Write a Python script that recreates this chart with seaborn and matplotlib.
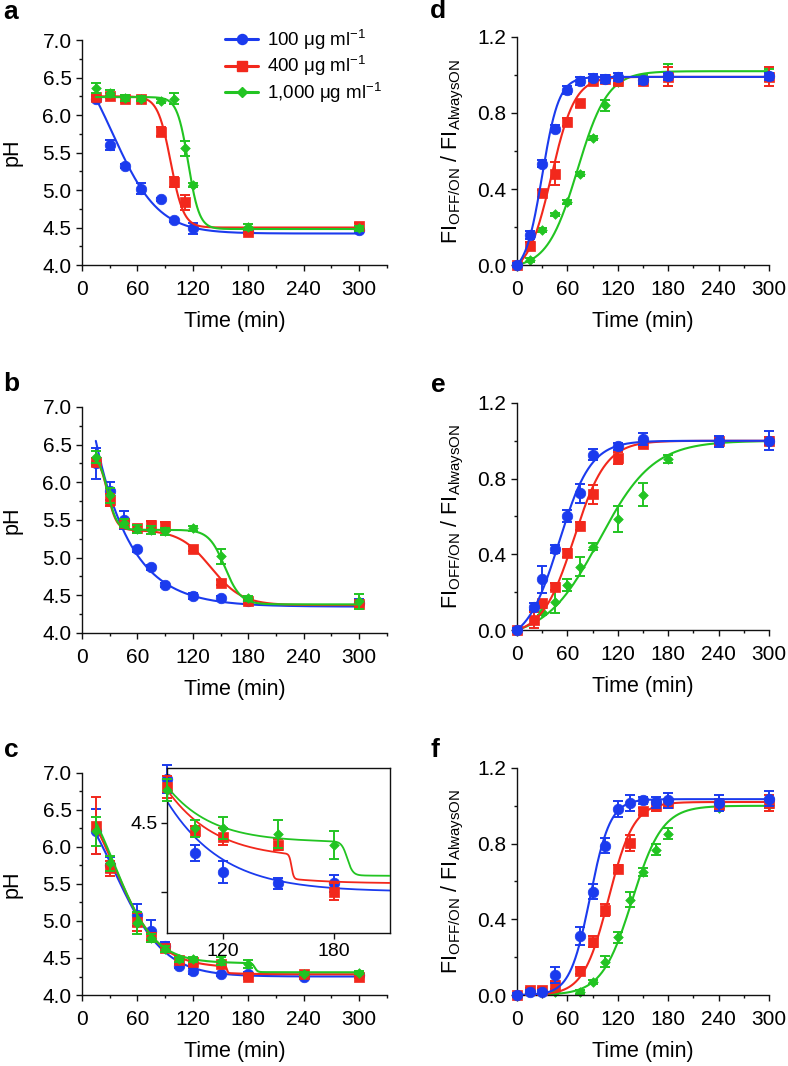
import numpy as np
import matplotlib
matplotlib.use("Agg")
import matplotlib.pyplot as plt
from matplotlib.lines import Line2D
from matplotlib.ticker import MultipleLocator, FixedLocator, FixedFormatter
import seaborn as sns

# ---------------- data ----------------
labels = ["100 \u03bcg ml$^{-1}$", "400 \u03bcg ml$^{-1}$", "1,000 \u03bcg ml$^{-1}$"]
colors = ["#1b3bee", "#f2281c", "#22c422"]
markers = ["o", "s", "D"]
msizes = [7.6, 7.0, 4.9]

# panel a (pH)
a_blue_t = [15, 30, 47, 64, 85, 100, 120, 180, 300]
a_blue_y = [6.22, 5.60, 5.32, 5.02, 4.88, 4.60, 4.49, 4.45, 4.47]
a_blue_e = [0.03, 0.07, 0.03, 0.07, 0.02, 0.03, 0.07, 0.03, 0.04]
a_red_t = [15, 30, 47, 64, 85, 100, 111, 180, 300]
a_red_y = [6.24, 6.26, 6.22, 6.22, 5.78, 5.11, 4.84, 4.44, 4.52]
a_red_e = [0.03, 0.03, 0.04, 0.03, 0.06, 0.07, 0.10, 0.03, 0.04]
a_green_t = [15, 30, 47, 64, 85, 100, 111, 120, 180, 300]
a_green_y = [6.36, 6.29, 6.23, 6.22, 6.19, 6.22, 5.56, 5.07, 4.51, 4.49]
a_green_e = [0.07, 0.04, 0.04, 0.03, 0.03, 0.07, 0.10, 0.03, 0.04, 0.03]

# panel b (pH)
b_t = [15, 30, 45, 60, 75, 90, 120, 150, 180, 300]
b_blue_y = [6.25, 5.88, 5.50, 5.11, 4.87, 4.64, 4.49, 4.46, 4.42, 4.40]
b_blue_e = [0.20, 0.12, 0.12, 0.03, 0.03, 0.03, 0.04, 0.03, 0.03, 0.05]
b_red_y = [6.27, 5.76, 5.46, 5.40, 5.44, 5.42, 5.12, 4.67, 4.42, 4.38]
b_red_e = [0.05, 0.08, 0.05, 0.04, 0.05, 0.05, 0.03, 0.03, 0.03, 0.05]
b_green_y = [6.33, 5.83, 5.46, 5.38, 5.37, 5.35, 5.39, 5.02, 4.46, 4.42]
b_green_e = [0.08, 0.10, 0.05, 0.05, 0.05, 0.05, 0.03, 0.10, 0.03, 0.10]

# panel c (pH)
c_t = [15, 30, 60, 75, 90, 105, 120, 150, 180, 240, 300]
c_blue_y = [6.21, 5.76, 5.08, 4.86, 4.66, 4.39, 4.32, 4.28, 4.28, 4.24, 4.27]
c_blue_e = [0.30, 0.10, 0.15, 0.15, 0.05, 0.03, 0.04, 0.02, 0.03, 0.02, 0.02]
c_red_y = [6.29, 5.71, 4.99, 4.79, 4.63, 4.47, 4.45, 4.42, 4.25, 4.29, 4.25]
c_red_e = [0.38, 0.10, 0.12, 0.05, 0.04, 0.02, 0.03, 0.02, 0.03, 0.02, 0.02]
c_green_y = [6.21, 5.78, 4.97, 4.77, 4.62, 4.48, 4.48, 4.46, 4.42, 4.29, 4.30]
c_green_e = [0.20, 0.10, 0.15, 0.05, 0.04, 0.03, 0.04, 0.05, 0.05, 0.02, 0.02]

# panel d (FI ratio)
d_t = [0, 15, 30, 45, 60, 75, 90, 105, 120, 150, 180, 300]
d_blue_y = [0, 0.158, 0.534, 0.718, 0.92, 0.967, 0.986, 0.979, 0.99, 0.972, 0.993, 0.993]
d_blue_e = [0.01, 0.02, 0.02, 0.02, 0.02, 0.02, 0.02, 0.02, 0.02, 0.02, 0.02, 0.02]
d_red_y = [0, 0.10, 0.377, 0.48, 0.753, 0.85, 0.967, 0.98, 0.97, 0.97, 0.99, 0.99]
d_red_e = [0.01, 0.02, 0.02, 0.06, 0.02, 0.02, 0.02, 0.02, 0.02, 0.02, 0.05, 0.05]
d_green_y = [0, 0.026, 0.184, 0.266, 0.33, 0.48, 0.67, 0.84, 0.964, 0.98, 1.0, 1.0]
d_green_e = [0.01, 0.01, 0.01, 0.01, 0.01, 0.01, 0.01, 0.03, 0.02, 0.02, 0.06, 0.03]

# panel e (FI ratio)
e_blue_t = [0, 20, 30, 45, 60, 75, 90, 120, 150, 240, 300]
e_blue_y = [0, 0.124, 0.268, 0.427, 0.603, 0.723, 0.926, 0.97, 1.01, 0.997, 1.0]
e_blue_e = [0.01, 0.02, 0.07, 0.02, 0.03, 0.05, 0.03, 0.02, 0.03, 0.03, 0.05]
e_red_t = [0, 20, 30, 45, 60, 75, 90, 120, 150, 240, 300]
e_red_y = [0, 0.053, 0.141, 0.229, 0.406, 0.55, 0.718, 0.909, 0.985, 0.997, 1.0]
e_red_e = [0.01, 0.04, 0.02, 0.02, 0.02, 0.02, 0.05, 0.03, 0.02, 0.02, 0.02]
e_green_t = [0, 30, 45, 60, 75, 90, 120, 150, 180, 240, 300]
e_green_y = [0, 0.097, 0.15, 0.238, 0.335, 0.441, 0.588, 0.715, 0.905, 0.997, 1.0]
e_green_e = [0.01, 0.02, 0.06, 0.03, 0.05, 0.02, 0.07, 0.06, 0.02, 0.02, 0.02]

# panel f (FI ratio)
f_blue_t = [0, 15, 30, 45, 75, 90, 105, 120, 135, 150, 165, 180, 240, 300]
f_blue_y = [0, 0.018, 0.014, 0.106, 0.312, 0.547, 0.79, 0.983, 1.015, 1.029, 1.018, 1.029, 1.015, 1.038]
f_blue_e = [0.01, 0.01, 0.01, 0.04, 0.05, 0.04, 0.04, 0.04, 0.04, 0.02, 0.03, 0.04, 0.04, 0.04]
f_red_t = [0, 15, 30, 45, 75, 90, 105, 120, 135, 150, 165, 180, 240, 300]
f_red_y = [0, 0.026, 0.026, 0.053, 0.129, 0.282, 0.45, 0.667, 0.803, 0.97, 1.0, 1.015, 1.006, 1.015]
f_red_e = [0.01, 0.01, 0.01, 0.02, 0.02, 0.03, 0.03, 0.02, 0.04, 0.02, 0.03, 0.02, 0.03, 0.04]
f_green_t = [0, 45, 75, 90, 105, 120, 135, 150, 165, 180, 240, 300]
f_green_y = [0, 0.018, 0.014, 0.07, 0.176, 0.305, 0.503, 0.65, 0.768, 0.852, 0.99, 1.006]
f_green_e = [0.01, 0.01, 0.01, 0.01, 0.03, 0.03, 0.04, 0.02, 0.03, 0.03, 0.02, 0.02]

# fitted-curve parameters
# pH panels: base + sum of decreasing logistic terms (amp, t0, dt) or exponential ("exp", amp, tref, k)
a_fits = [(4.42, [(2.68, 33, 25)]),
          (4.50, [(1.75, 96, 7)]),
          (4.48, [(1.76, 115, 6)])]
b_fits = [(4.35, [("exp", 2.2, 15, 0.026)]),
          (4.37, [(1.0, 139.5, 17), (1.0, 27.6, 4.9)]),
          (4.38, [(0.99, 154.6, 8.6), (1.0, 28, 5)])]
c_fits = [(4.25, [(2.85, 35, 27)]),
          (4.28, [(0.09, 157, 0.6), (2.73, 35, 24)]),
          (4.307, [(0.123, 187, 1.5), (2.67, 35, 22)])]
# FI panels: rising logistic (top, t0, dt), normalised to start at 0
d_fits = [(0.99, 30, 10), (0.99, 41, 14), (1.02, 72, 18)]
e_fits = [(1.0, 50, 19), (1.0, 68, 19), (1.0, 98, 32)]
f_fits = [(1.035, 87, 12), (1.02, 109, 15), (1.0, 137, 18)]


def ph_curve(t, base, terms):
    y = np.full_like(t, base, dtype=float)
    for term in terms:
        if term[0] == "exp":
            _, amp, tref, k = term
            y += amp * np.exp(-k * (t - tref))
        else:
            amp, t0, dt = term
            y += amp / (1.0 + np.exp((t - t0) / dt))
    return y


def fi_curve(t, top, t0, dt):
    r = 1.0 / (1.0 + np.exp(-(t - t0) / dt))
    r0 = 1.0 / (1.0 + np.exp(t0 / dt))
    return top * (r - r0) / (1.0 - r0)


# ---------------- style ----------------
sns.set_theme(style="ticks")
plt.rcParams["font.family"] = ["Liberation Sans", "DejaVu Sans"]
plt.rcParams["mathtext.fontset"] = "custom"
plt.rcParams["mathtext.rm"] = "Liberation Sans"
plt.rcParams["mathtext.it"] = "Liberation Sans:italic"
plt.rcParams["mathtext.bf"] = "Liberation Sans:bold"
plt.rcParams["axes.linewidth"] = 1.0
plt.rcParams["axes.edgecolor"] = "#111111"
plt.rcParams["text.color"] = "black"
plt.rcParams["axes.labelcolor"] = "black"
plt.rcParams["xtick.color"] = "#111111"
plt.rcParams["ytick.color"] = "#111111"
plt.rcParams["xtick.labelcolor"] = "black"
plt.rcParams["ytick.labelcolor"] = "black"

TICK_FS = 15
LABEL_FS = 15.5

fig = plt.figure(figsize=(7.88, 10.66), dpi=100)

pos = {
    "a": [0.104, 0.7514, 0.387, 0.211],
    "b": [0.104, 0.4062, 0.387, 0.212],
    "c": [0.104, 0.0666, 0.387, 0.2083],
    "d": [0.656, 0.7514, 0.320, 0.2139],
    "e": [0.656, 0.409, 0.320, 0.213],
    "f": [0.656, 0.0666, 0.320, 0.213],
}


def style_axes(ax, kind):
    sns.despine(ax=ax)
    ax.tick_params(axis="both", which="major", direction="out", length=4.5, width=1,
                   labelsize=TICK_FS)
    ax.tick_params(axis="x", which="major", pad=6)
    ax.tick_params(axis="y", which="major", pad=3)
    ax.tick_params(axis="both", which="minor", direction="out", length=2.5, width=1)
    ax.xaxis.set_major_locator(FixedLocator([0, 60, 120, 180, 240, 300]))
    ax.xaxis.set_minor_locator(MultipleLocator(30))
    ax.set_xlabel("Time (min)", fontsize=LABEL_FS, labelpad=9)
    if kind == "ph":
        ax.set_xlim(0, 330)
        ax.set_ylim(4.0, 7.0)
        ax.yaxis.set_major_locator(MultipleLocator(0.5))
        ax.yaxis.set_minor_locator(MultipleLocator(0.25))
        ax.yaxis.set_major_formatter(matplotlib.ticker.FormatStrFormatter("%.1f"))
        ax.set_ylabel("pH", fontsize=LABEL_FS, labelpad=14)
    else:
        ax.set_xlim(0, 300)
        ax.set_ylim(0.0, 1.2)
        ax.yaxis.set_major_locator(MultipleLocator(0.4))
        ax.yaxis.set_minor_locator(MultipleLocator(0.2))
        ax.yaxis.set_major_formatter(matplotlib.ticker.FormatStrFormatter("%.1f"))
        ax.set_ylabel(r"FI$_{\mathrm{OFF/ON}}$ / FI$_{\mathrm{AlwaysON}}$",
                      fontsize=LABEL_FS, labelpad=8)


def draw_series(ax, t, y, e, i, curve_t, curve_y, z, clip_pts=False, lw=1.5):
    c = colors[i]
    sns.lineplot(x=curve_t, y=curve_y, ax=ax, color=c, lw=lw, legend=False,
                 zorder=z, sort=False)
    ax.errorbar(t, y, yerr=e, fmt="none", ecolor=c, elinewidth=1.4, capsize=3.4,
                capthick=1.4, zorder=z + 0.2, clip_on=clip_pts)
    sns.scatterplot(x=t, y=y, ax=ax, marker=markers[i], s=msizes[i] ** 2, color=c,
                    edgecolor=c, linewidth=0.5, zorder=z + 0.4, clip_on=clip_pts,
                    legend=False)


# --- pH panels ---
ph_data = {
    "a": [(a_blue_t, a_blue_y, a_blue_e), (a_red_t, a_red_y, a_red_e), (a_green_t, a_green_y, a_green_e)],
    "b": [(b_t, b_blue_y, b_blue_e), (b_t, b_red_y, b_red_e), (b_t, b_green_y, b_green_e)],
    "c": [(c_t, c_blue_y, c_blue_e), (c_t, c_red_y, c_red_e), (c_t, c_green_y, c_green_e)],
}
ph_fits = {"a": a_fits, "b": b_fits, "c": c_fits}
axes = {}
tt_ph = np.linspace(15, 300, 3000)
for key in ["a", "b", "c"]:
    ax = fig.add_axes(pos[key])
    axes[key] = ax
    for i in range(3):  # blue, red, green (green on top)
        t, y, e = ph_data[key][i]
        base, terms = ph_fits[key][i]
        draw_series(ax, t, y, e, i, tt_ph, ph_curve(tt_ph, base, terms), z=2 + i)
    style_axes(ax, "ph")

# --- FI panels ---
fi_data = {
    "d": [(d_t, d_blue_y, d_blue_e), (d_t, d_red_y, d_red_e), (d_t, d_green_y, d_green_e)],
    "e": [(e_blue_t, e_blue_y, e_blue_e), (e_red_t, e_red_y, e_red_e), (e_green_t, e_green_y, e_green_e)],
    "f": [(f_blue_t, f_blue_y, f_blue_e), (f_red_t, f_red_y, f_red_e), (f_green_t, f_green_y, f_green_e)],
}
fi_fits = {"d": d_fits, "e": e_fits, "f": f_fits}
tt_fi = np.linspace(0, 300, 1500)
for key in ["d", "e", "f"]:
    ax = fig.add_axes(pos[key])
    axes[key] = ax
    for i in [2, 1, 0]:  # green, red, blue (blue on top)
        t, y, e = fi_data[key][i]
        top, t0, dt = fi_fits[key][i]
        draw_series(ax, t, y, e, i, tt_fi, fi_curve(tt_fi, top, t0, dt), z=2 + (2 - i))
    style_axes(ax, "fi")

# --- inset in c ---
axin = fig.add_axes([0.2119, 0.1248, 0.283, 0.1548])
axin.set_facecolor("white")
tt_in = np.linspace(90, 210, 2000)
for i in range(3):
    t, y, e = ph_data["c"][i]
    t = np.array(t); y = np.array(y); e = np.array(e)
    m = (t >= 90) & (t <= 180)
    base, terms = c_fits[i]
    draw_series(axin, t[m], y[m], e[m], i, tt_in, ph_curve(tt_in, base, terms), z=2 + i,
                clip_pts=False, lw=1.3)
axin.set_xlim(90, 210)
axin.set_ylim(4.10, 4.70)
for s in axin.spines.values():
    s.set_visible(True)
    s.set_linewidth(1.0)
axin.xaxis.set_major_locator(FixedLocator([120, 180]))
axin.yaxis.set_major_locator(FixedLocator([4.25, 4.5]))
axin.yaxis.set_major_formatter(FixedFormatter(["", "4.5"]))
axin.tick_params(axis="both", which="major", direction="out", length=4, width=1,
                 labelsize=14, pad=3)
axin.set_xlabel("")
axin.set_ylabel("")

# legend in a
handles = [Line2D([], [], color=colors[i], marker=markers[i], markersize=msizes[i] * 0.95,
                  lw=2.2) for i in range(3)]
axes["a"].legend(handles, labels, loc="upper left", bbox_to_anchor=(0.286, 0.974),
                 bbox_transform=fig.transFigure, frameon=False, fontsize=13.5,
                 handlelength=1.75, handletextpad=0.45, labelspacing=0.12, borderpad=0.0,
                 borderaxespad=0.0)

# panel letters
letters = {"a": (11, 12), "b": (11, 384), "c": (11, 750),
           "d": (438, 11), "e": (438, 385), "f": (435, 750)}
for k, (px, py) in letters.items():
    fig.text(px / 788, 1 - py / 1066, k, fontsize=19, fontweight="bold",
             ha="center", va="center")

fig.savefig("out.png", dpi=100)
